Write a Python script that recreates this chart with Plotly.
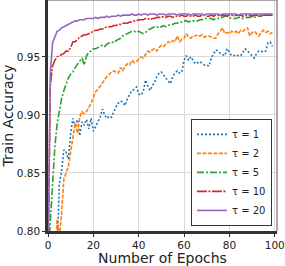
import plotly.graph_objects as go

epochs = list(range(100))

acc_tau1 = [0.70, 0.74, 0.77, 0.79, 0.78, 0.840, 0.852, 0.870, 0.868, 0.862,
            0.884, 0.897, 0.889, 0.896, 0.882, 0.894, 0.891, 0.896, 0.888, 0.897,
            0.886, 0.890, 0.894, 0.898, 0.905, 0.900, 0.897, 0.899, 0.898, 0.903,
            0.907, 0.910, 0.912, 0.911, 0.908, 0.914, 0.917, 0.921, 0.922, 0.924,
            0.918, 0.917, 0.920, 0.930, 0.925, 0.921, 0.925, 0.928, 0.933, 0.936,
            0.937, 0.934, 0.931, 0.929, 0.927, 0.933, 0.936, 0.938, 0.936, 0.937,
            0.947, 0.951, 0.947, 0.950, 0.947, 0.944, 0.945, 0.946, 0.944, 0.943,
            0.943, 0.942, 0.949, 0.953, 0.956, 0.955, 0.953, 0.952, 0.951, 0.957,
            0.954, 0.951, 0.951, 0.952, 0.951, 0.951, 0.954, 0.957, 0.955, 0.953,
            0.951, 0.949, 0.953, 0.955, 0.955, 0.954, 0.955, 0.962, 0.963, 0.959]

acc_tau2 = [0.65, 0.70, 0.74, 0.77, 0.81, 0.795, 0.815, 0.845, 0.850, 0.856,
            0.868, 0.880, 0.893, 0.884, 0.898, 0.903, 0.901, 0.903, 0.906, 0.910,
            0.915, 0.920, 0.922, 0.925, 0.928, 0.931, 0.933, 0.935, 0.937, 0.938,
            0.937, 0.936, 0.941, 0.938, 0.942, 0.944, 0.943, 0.947, 0.945, 0.946,
            0.948, 0.950, 0.949, 0.952, 0.955, 0.954, 0.956, 0.957, 0.955, 0.958,
            0.960, 0.959, 0.961, 0.963, 0.962, 0.964, 0.963, 0.968, 0.963, 0.965,
            0.966, 0.970, 0.967, 0.966, 0.968, 0.968, 0.969, 0.968, 0.969, 0.967,
            0.968, 0.968, 0.967, 0.966, 0.966, 0.970, 0.972, 0.975, 0.970, 0.971,
            0.970, 0.972, 0.971, 0.972, 0.970, 0.973, 0.972, 0.974, 0.975, 0.968,
            0.971, 0.972, 0.970, 0.968, 0.971, 0.973, 0.971, 0.972, 0.970, 0.971]

acc_tau5 = [0.775, 0.805, 0.840, 0.872, 0.892, 0.905, 0.914, 0.921, 0.927, 0.932,
            0.935, 0.937, 0.941, 0.944, 0.947, 0.949, 0.943, 0.951, 0.954, 0.955,
            0.957, 0.957, 0.958, 0.959, 0.960, 0.959, 0.961, 0.962, 0.963, 0.962,
            0.964, 0.965, 0.966, 0.968, 0.969, 0.970, 0.971, 0.972, 0.972, 0.971,
            0.972, 0.971, 0.970, 0.971, 0.973, 0.974, 0.975, 0.976, 0.976, 0.975,
            0.976, 0.977, 0.976, 0.977, 0.978, 0.978, 0.979, 0.979, 0.980, 0.980,
            0.981, 0.981, 0.980, 0.981, 0.981, 0.981, 0.981, 0.982, 0.982, 0.983,
            0.983, 0.983, 0.983, 0.982, 0.983, 0.983, 0.984, 0.984, 0.985, 0.985,
            0.984, 0.983, 0.983, 0.983, 0.984, 0.984, 0.983, 0.984, 0.984, 0.984,
            0.985, 0.984, 0.985, 0.985, 0.985, 0.986, 0.986, 0.987, 0.986, 0.987]

acc_tau10 = [0.76, 0.925, 0.942, 0.947, 0.950, 0.951, 0.952, 0.953, 0.955, 0.955,
             0.958, 0.963, 0.963, 0.965, 0.967, 0.968, 0.969, 0.969, 0.970, 0.971,
             0.972, 0.973, 0.973, 0.974, 0.974, 0.975, 0.976, 0.976, 0.976, 0.977,
             0.977, 0.978, 0.978, 0.979, 0.979, 0.979, 0.980, 0.980, 0.981, 0.981,
             0.982, 0.982, 0.982, 0.983, 0.983, 0.982, 0.983, 0.983, 0.984, 0.984,
             0.984, 0.985, 0.984, 0.985, 0.985, 0.984, 0.985, 0.985, 0.985, 0.986,
             0.985, 0.985, 0.986, 0.985, 0.985, 0.986, 0.985, 0.985, 0.986, 0.986,
             0.985, 0.985, 0.986, 0.985, 0.986, 0.986, 0.985, 0.986, 0.986, 0.985,
             0.986, 0.986, 0.985, 0.986, 0.986, 0.986, 0.985, 0.986, 0.986, 0.986,
             0.985, 0.986, 0.986, 0.986, 0.985, 0.986, 0.986, 0.986, 0.986, 0.986]

acc_tau20 = [0.78, 0.935, 0.962, 0.968, 0.972, 0.973, 0.975, 0.976, 0.977, 0.978,
             0.979, 0.980, 0.981, 0.981, 0.982, 0.982, 0.982, 0.983, 0.983, 0.983,
             0.983, 0.984, 0.983, 0.984, 0.984, 0.984, 0.985, 0.984, 0.985, 0.985,
             0.985, 0.986, 0.985, 0.986, 0.986, 0.986, 0.986, 0.987, 0.986, 0.986,
             0.987, 0.986, 0.987, 0.987, 0.986, 0.987, 0.987, 0.987, 0.986, 0.987,
             0.987, 0.987, 0.986, 0.987, 0.987, 0.987, 0.987, 0.986, 0.987, 0.987,
             0.987, 0.987, 0.987, 0.986, 0.987, 0.987, 0.987, 0.987, 0.987, 0.986,
             0.987, 0.987, 0.987, 0.987, 0.987, 0.987, 0.986, 0.987, 0.987, 0.987,
             0.987, 0.987, 0.987, 0.987, 0.986, 0.987, 0.987, 0.987, 0.987, 0.987,
             0.987, 0.987, 0.987, 0.987, 0.987, 0.987, 0.987, 0.987, 0.987, 0.987]

series_names = ["\u03c4 = 1", "\u03c4 = 2", "\u03c4 = 5", "\u03c4 = 10", "\u03c4 = 20"]
series_values = [acc_tau1, acc_tau2, acc_tau5, acc_tau10, acc_tau20]
colors = ["#1f77b4", "#ff7f0e", "#2ca02c", "#d62728", "#9467bd"]
dashes = ["2px,2px", "4px,1.5px", "7px,2px,2px,2px", "10px,1.5px,2px,1.5px", "solid"]

x_ticks = [0, 20, 40, 60, 80, 100]
y_ticks = [0.80, 0.85, 0.90, 0.95]
y_tick_labels = ["0.80", "0.85", "0.90", "0.95"]

fig = go.Figure()
for name, vals, c, d in zip(series_names, series_values, colors, dashes):
    fig.add_trace(go.Scatter(x=epochs, y=vals, mode="lines", name=name,
                             line=dict(color=c, width=1.6, dash=d)))

font_family = "DejaVu Sans"
fig.update_layout(
    width=285, height=266,
    margin=dict(l=47, r=6, t=0, b=35),
    paper_bgcolor="white", plot_bgcolor="white",
    font=dict(family=font_family, color="#222", size=10),
    showlegend=True,
    legend=dict(x=0.978, y=0.022, xanchor="right", yanchor="bottom",
                bgcolor="white", bordercolor="#333", borderwidth=1,
                font=dict(size=10, family=font_family),
                tracegroupgap=0, itemwidth=30),
)
fig.update_xaxes(range=[0, 101], tickvals=x_ticks, showgrid=True, gridcolor="#d9d9d9",
                 gridwidth=1, showline=True, linecolor="#333", linewidth=2.5,
                 ticks="outside", ticklen=3, tickcolor="#333", zeroline=False,
                 tickfont=dict(size=10.5), ticklabeloverflow="allow",
                 title=dict(text="Number of Epochs", font=dict(size=14), standoff=3))
fig.update_yaxes(range=[0.8, 0.999], tickvals=y_ticks, ticktext=y_tick_labels,
                 showgrid=True, gridcolor="#d9d9d9", gridwidth=1,
                 showline=True, linecolor="#333", linewidth=2.5,
                 ticks="outside", ticklen=3, tickcolor="#333", zeroline=False,
                 tickfont=dict(size=10.5),
                 title=dict(text="Train Accuracy", font=dict(size=14), standoff=7))

fig.add_shape(type="line", xref="paper", yref="paper", x0=0, x1=1, y0=1, y1=1,
              line=dict(color="#8c8c8c", width=1.5))
fig.add_shape(type="line", xref="paper", yref="paper", x0=1, x1=1, y0=0, y1=1,
              line=dict(color="#8c8c8c", width=1.5))

fig.write_html("out.html", config={"displayModeBar": False},
               post_script="document.body.style.margin='0px';")
